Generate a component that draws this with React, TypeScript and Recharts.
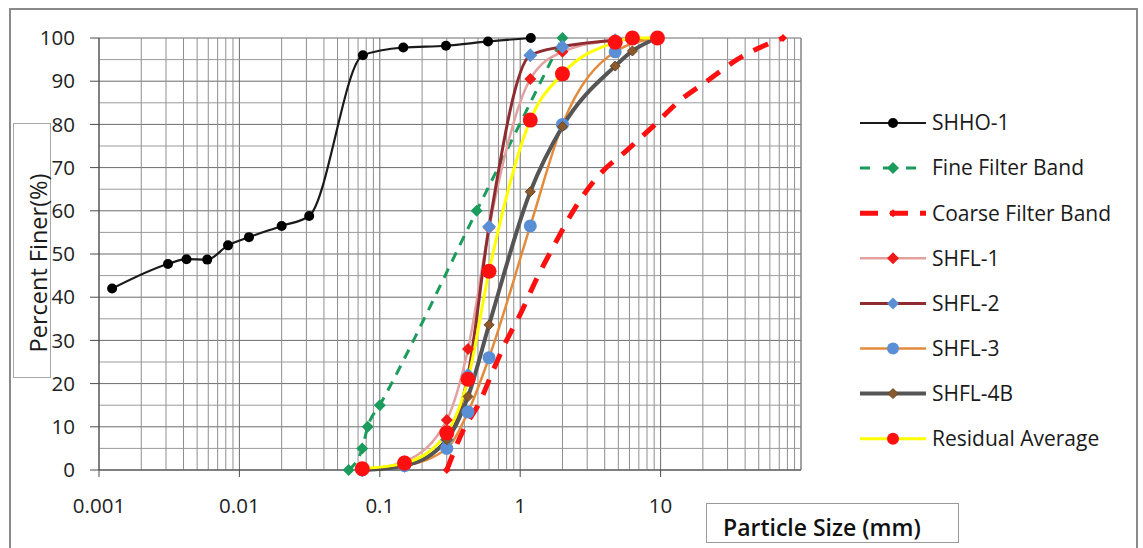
import React from 'react';
import { LineChart, Line, XAxis, YAxis, CartesianGrid, ReferenceLine } from 'recharts';

type Pt = { x: number; y: number };

const shho1: Pt[] = [
  { x: 0.00124, y: 42 }, { x: 0.0031, y: 47.7 }, { x: 0.0042, y: 48.8 }, { x: 0.0059, y: 48.7 },
  { x: 0.0083, y: 52 }, { x: 0.0117, y: 53.9 }, { x: 0.02, y: 56.5 }, { x: 0.0314, y: 58.8 },
  { x: 0.0758, y: 96 }, { x: 0.147, y: 97.8 }, { x: 0.296, y: 98.2 }, { x: 0.59, y: 99.2 }, { x: 1.19, y: 100 },
];
const fineBand: Pt[] = [
  { x: 0.06, y: 0 }, { x: 0.075, y: 5 }, { x: 0.082, y: 10 }, { x: 0.1, y: 15 }, { x: 0.49, y: 60 }, { x: 2, y: 100 },
];
const coarseBand: Pt[] = [
  { x: 0.3, y: 0 }, { x: 0.39, y: 9 }, { x: 0.52, y: 16 }, { x: 0.64, y: 23 }, { x: 0.8, y: 30 }, { x: 1, y: 36 },
  { x: 1.32, y: 44.5 }, { x: 1.71, y: 51.5 }, { x: 2.67, y: 62.5 }, { x: 3.7, y: 68.5 }, { x: 5.75, y: 74 },
  { x: 8.8, y: 79.5 }, { x: 13.7, y: 85.5 }, { x: 21.4, y: 90 }, { x: 35, y: 95 }, { x: 74.5, y: 100 },
];
const shfl1: Pt[] = [
  { x: 0.075, y: 0 }, { x: 0.15, y: 2 }, { x: 0.3, y: 11.6 }, { x: 0.425, y: 28 }, { x: 0.6, y: 56 },
  { x: 1.18, y: 90.5 }, { x: 2, y: 96.8 }, { x: 4.75, y: 99.5 }, { x: 9.5, y: 100 },
];
const shfl2: Pt[] = [
  { x: 0.075, y: 0 }, { x: 0.15, y: 1 }, { x: 0.3, y: 7 }, { x: 0.425, y: 22 }, { x: 0.6, y: 56.3 },
  { x: 1.18, y: 96 }, { x: 2, y: 98 }, { x: 4.75, y: 99.5 }, { x: 9.5, y: 100 },
];
const shfl3: Pt[] = [
  { x: 0.075, y: 0 }, { x: 0.15, y: 1 }, { x: 0.3, y: 5 }, { x: 0.425, y: 13.4 }, { x: 0.6, y: 26 },
  { x: 1.18, y: 56.5 }, { x: 2, y: 80 }, { x: 4.75, y: 96.8 }, { x: 9.5, y: 100 },
];
const shfl4b: Pt[] = [
  { x: 0.075, y: 0 }, { x: 0.15, y: 1 }, { x: 0.3, y: 7 }, { x: 0.425, y: 17 }, { x: 0.6, y: 33.6 },
  { x: 1.18, y: 64.4 }, { x: 2, y: 79.5 }, { x: 4.75, y: 93.5 }, { x: 6.3, y: 97 }, { x: 9.5, y: 100 },
];
const residual: Pt[] = [
  { x: 0.075, y: 0.3 }, { x: 0.15, y: 1.6 }, { x: 0.3, y: 8.6 }, { x: 0.425, y: 21 }, { x: 0.6, y: 46 },
  { x: 1.18, y: 81 }, { x: 2, y: 91.7 }, { x: 4.75, y: 99 }, { x: 6.3, y: 100 }, { x: 9.5, y: 100 },
];

const xTicks = [0.001, 0.01, 0.1, 1, 10];
const yTicks = [0, 10, 20, 30, 40, 50, 60, 70, 80, 90, 100];
const decades = [0.001, 0.01, 0.1, 1, 10];
const minorMult = [2, 3, 4, 5, 6, 7, 8, 9];
const minorX = [...decades.flatMap((d) => minorMult.map((m) => +(d * m).toPrecision(3))), 100];
const minorY = [5, 15, 25, 35, 45, 55, 65, 75, 85, 95];

const FONT = '"Open Sans", sans-serif';

type Marker = 'circle' | 'diamond' | 'arrow';
type Spec = {
  name: string;
  data: Pt[];
  stroke: string;
  width: number;
  dash?: string;
  marker: Marker;
  mfill: string;
  mstroke?: string;
  msize: number;
  endsOnly?: boolean;
};

const series: Spec[] = [
  { name: 'SHHO-1', data: shho1, stroke: '#1a1a1a', width: 2.2, marker: 'circle', mfill: '#000', msize: 5 },
  { name: 'Fine Filter Band', data: fineBand, stroke: '#1c9c5c', width: 3, dash: '10 8', marker: 'diamond', mfill: '#1c9c5c', msize: 6 },
  { name: 'Coarse Filter Band', data: coarseBand, stroke: '#ff1010', width: 5, dash: '16 12', marker: 'arrow', mfill: '#ff1010', msize: 4, endsOnly: true },
  { name: 'SHFL-1', data: shfl1, stroke: '#e2a0a0', width: 2.5, marker: 'diamond', mfill: '#f01818', msize: 6 },
  { name: 'SHFL-2', data: shfl2, stroke: '#8e2c30', width: 3, marker: 'diamond', mfill: '#5b8fd5', msize: 7 },
  { name: 'SHFL-3', data: shfl3, stroke: '#e38b3c', width: 2.5, marker: 'circle', mfill: '#5b8fd5', msize: 6.5 },
  { name: 'SHFL-4B', data: shfl4b, stroke: '#555555', width: 4, marker: 'diamond', mfill: '#8a5a2c', mstroke: '#6b4420', msize: 5 },
  { name: 'Residual Average', data: residual, stroke: '#ffff00', width: 3, marker: 'circle', mfill: '#ff1010', msize: 7.5 },
];

function markerShape(cx: number, cy: number, s: Spec, key?: string | number) {
  const sz = s.msize;
  if (s.marker === 'circle') {
    return <circle key={key} cx={cx} cy={cy} r={sz} fill={s.mfill} stroke={s.mstroke || 'none'} />;
  }
  if (s.marker === 'diamond') {
    return (
      <path
        key={key}
        d={`M${cx},${cy - sz} L${cx + sz},${cy} L${cx},${cy + sz} L${cx - sz},${cy} Z`}
        fill={s.mfill}
        stroke={s.mstroke || 'none'}
        strokeWidth={1}
      />
    );
  }
  return (
    <path
      key={key}
      d={`M${cx - sz},${cy} L${cx},${cy - sz} L${cx + sz},${cy} L${cx},${cy + sz} Z`}
      fill={s.mfill}
    />
  );
}

function makeDot(s: Spec) {
  return (p: any) => {
    const k = `${s.name}-${p.index}`;
    if (p.cx == null || p.cy == null) return <g key={k} />;
    if (s.endsOnly && p.index !== 0 && p.index !== s.data.length - 1) return <g key={k} />;
    return markerShape(p.cx, p.cy, s, k);
  };
}

function LegendBox() {
  const rowStart = 23;
  const step = 45.1;
  return (
    <svg width={290} height={380} style={{ position: 'absolute', left: 855, top: 100 }}>
      {series.map((s, i) => {
        const cy = rowStart + i * step;
        return (
          <g key={s.name}>
            <line
              x1={5}
              x2={71}
              y1={cy}
              y2={cy}
              stroke={s.stroke}
              strokeWidth={s.width}
              strokeDasharray={s.dash === '16 12' ? '18 12' : s.dash ? '10 13' : undefined}
            />
            {markerShape(38, cy, { ...s, msize: Math.min(s.msize, 6) })}
            <text x={77} y={cy} dy="0.35em" fontFamily={FONT} fontSize={21} fill="#1a1a1a">
              {s.name}
            </text>
          </g>
        );
      })}
    </svg>
  );
}

export default function App() {
  return (
    <div style={{ position: 'absolute', left: 0, top: 0, width: 1143, height: 548, overflow: 'hidden', background: '#fff' }}>
      <div
        style={{
          position: 'absolute', left: 9, top: 8, width: 1129, height: 560,
          border: '2px solid #8a8a8a', boxSizing: 'border-box',
        }}
      />
      <div
        style={{
          position: 'absolute', left: 13, top: 123, width: 38, height: 255,
          border: '1px solid #a8a8a8', boxSizing: 'border-box', background: '#fff',
        }}
      />
      <svg width={60} height={548} style={{ position: 'absolute', left: 0, top: 0 }}>
        <text
          x={39}
          y={263}
          transform="rotate(-90 39 263)"
          textAnchor="middle"
          dy="0.35em"
          fontFamily={FONT}
          fontSize={23.5}
          fill="#1a1a1a"
        >
          Percent Finer(%)
        </text>
      </svg>
      <div style={{ position: 'absolute', left: 0, top: 0 }}>
        <LineChart width={1143} height={548} margin={{ top: 38, right: 342, bottom: 28, left: 0 }}>
          <CartesianGrid stroke="#6c6c6c" strokeWidth={1} />
          {minorX.map((v) => (
            <ReferenceLine key={`vx${v}`} x={v} stroke="#8e8e8e" strokeWidth={1} />
          ))}
          {minorY.map((v) => (
            <ReferenceLine key={`hy${v}`} y={v} stroke="#9a9a9a" strokeWidth={1} />
          ))}
          <XAxis
            dataKey="x"
            type="number"
            scale="log"
            domain={[0.001, 100]}
            ticks={xTicks}
            allowDataOverflow
            height={50}
            tickSize={7}
            tickMargin={21}
            stroke="#4a4a4a"
            tickLine={{ stroke: '#4a4a4a' }}
            tick={{ fontFamily: FONT, fontSize: 20.5, fill: '#222' }}
            tickFormatter={(v: number) => String(v)}
          />
          <YAxis
            type="number"
            domain={[0, 100]}
            ticks={yTicks}
            width={99}
            tickSize={9}
            tickMargin={15}
            stroke="#4a4a4a"
            tickLine={{ stroke: '#4a4a4a' }}
            tick={{ fontFamily: FONT, fontSize: 20.5, fill: '#222' }}
          />
          {series.map((s) => (
            <Line
              key={s.name}
              data={s.data}
              dataKey="y"
              name={s.name}
              type="monotone"
              stroke={s.stroke}
              strokeWidth={s.width}
              strokeDasharray={s.dash}
              dot={makeDot(s)}
              activeDot={false}
              isAnimationActive={false}
            />
          ))}
        </LineChart>
      </div>
      <div
        style={{
          position: 'absolute', left: 706, top: 503, width: 253, height: 40,
          border: '1px solid #9a9a9a', boxSizing: 'border-box', background: '#fff',
        }}
      />
      <svg width={300} height={60} style={{ position: 'absolute', left: 700, top: 495 }}>
        <text x={23} y={41} fontFamily={FONT} fontSize={23} fontWeight={600} fill="#111">
          Particle Size (mm)
        </text>
      </svg>
      <LegendBox />
    </div>
  );
}
